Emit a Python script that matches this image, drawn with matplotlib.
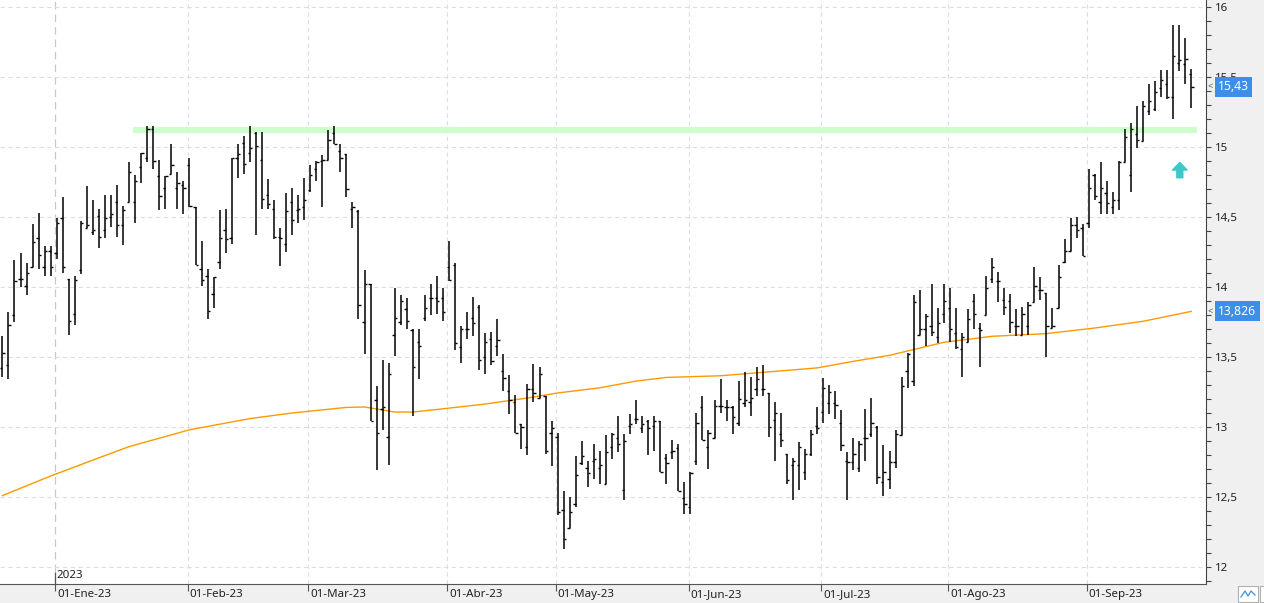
import numpy as np
import pandas as pd
import matplotlib
matplotlib.use("Agg")
import matplotlib.pyplot as plt
from matplotlib.ticker import MultipleLocator, FuncFormatter
from matplotlib.patches import Rectangle

plt.rcParams['font.family'] = ['Noto Sans', 'DejaVu Sans']

# Sesiones (BME) del 19-dic-2022 al 26-sep-2023
holidays = ['2022-12-26', '2023-04-07', '2023-04-10', '2023-05-01']
meses = ['Ene', 'Feb', 'Mar', 'Abr', 'May', 'Jun', 'Jul', 'Ago', 'Sep', 'Oct', 'Nov', 'Dic']

opens = [13.42, 13.44, 13.80, 14.06, 14.01, 14.14, 14.35, 14.14, 14.26, 14.24,
         14.49, 14.06, 13.81, 14.12, 14.42, 14.39, 14.51, 14.41, 14.50, 14.61,
         14.44, 14.61, 14.61, 14.86, 14.92, 15.13, 14.79, 14.71, 14.81, 14.71,
         14.73, 14.87, 14.57, 14.13, 14.08, 13.95, 14.18, 14.41, 14.35, 14.92,
         15.03, 14.96, 15.10, 14.91, 14.66, 14.56, 14.36, 14.31, 14.61, 14.55,
         14.57, 14.69, 14.84, 14.90, 14.91, 15.10, 14.97, 14.95, 14.56, 14.54,
         13.75, 14.02, 13.19, 13.13, 12.93, 13.66, 13.75, 13.84, 13.69, 13.61,
         13.78, 13.92, 13.92, 13.92, 14.14, 14.16, 13.57, 13.70, 13.78, 13.86,
         13.50, 13.63, 13.58, 13.40, 13.26, 13.18, 13.02, 12.86, 13.27, 13.21,
         13.22, 12.96, 12.93, 12.41, 12.28, 12.45, 12.74, 12.71, 12.76, 12.71,
         12.59, 12.86, 12.92, 12.55, 13.01, 13.06, 12.99, 13.04, 13.01, 13.04,
         12.78, 12.82, 12.85, 12.49, 12.43, 12.76, 13.14, 12.86, 12.92, 13.15,
         13.14, 13.14, 13.03, 13.17, 13.18, 13.27, 13.27, 13.24, 13.05, 12.95,
         12.81, 12.73, 12.73, 12.68, 12.81, 13.01, 13.11, 13.17, 13.17, 13.03,
         12.76, 12.75, 12.71, 12.92, 12.95, 13.00, 12.61, 12.63, 12.75, 12.94,
         13.40, 13.33, 13.66, 13.70, 13.72, 13.64, 13.81, 13.85, 13.67, 13.56,
         13.61, 13.90, 13.71, 13.80, 14.06, 14.04, 13.91, 13.90, 13.72, 13.66,
         13.72, 13.89, 13.98, 13.96, 13.71, 13.85, 14.18, 14.26, 14.44, 14.42,
         14.46, 14.80, 14.61, 14.67, 14.57, 14.62, 14.89, 14.80, 15.09, 15.04,
         15.26, 15.27, 15.42, 15.45, 15.36, 15.60, 15.59, 15.52]
highs = [13.65, 13.82, 14.19, 14.24, 14.17, 14.45, 14.53, 14.29, 14.29, 14.49,
         14.64, 14.06, 14.08, 14.47, 14.72, 14.62, 14.56, 14.66, 14.66, 14.73,
         14.58, 14.89, 14.80, 14.96, 15.15, 15.15, 14.91, 14.79, 15.02, 14.82,
         14.76, 14.92, 14.57, 14.33, 14.13, 14.07, 14.55, 14.56, 14.92, 15.02,
         15.08, 15.15, 15.11, 15.11, 14.77, 14.62, 14.42, 14.67, 14.71, 14.66,
         14.78, 14.87, 14.90, 14.94, 15.12, 15.15, 15.02, 14.95, 14.61, 14.55,
         14.12, 14.02, 13.29, 13.48, 13.46, 13.99, 13.94, 13.92, 13.70, 13.70,
         13.94, 14.02, 14.08, 13.99, 14.33, 14.17, 13.72, 13.82, 13.93, 13.87,
         13.67, 13.68, 13.77, 13.52, 13.37, 13.23, 13.02, 13.31, 13.45, 13.43,
         13.22, 13.04, 12.96, 12.54, 12.50, 12.79, 12.90, 12.76, 12.88, 12.83,
         12.94, 12.96, 13.08, 12.95, 13.09, 13.19, 13.08, 13.05, 13.08, 13.04,
         12.81, 12.91, 12.88, 12.61, 12.68, 13.10, 13.22, 12.98, 13.19, 13.34,
         13.19, 13.15, 13.33, 13.39, 13.36, 13.43, 13.44, 13.24, 13.18, 13.10,
         12.81, 12.78, 12.89, 12.84, 12.98, 13.14, 13.35, 13.30, 13.26, 13.12,
         12.82, 12.92, 12.90, 13.13, 13.21, 13.01, 12.87, 12.83, 12.98, 13.36,
         13.53, 13.94, 13.98, 13.81, 14.02, 13.85, 14.02, 13.99, 13.85, 13.67,
         13.84, 13.95, 13.74, 14.08, 14.21, 14.11, 13.99, 13.95, 13.84, 13.86,
         13.89, 14.14, 14.07, 13.96, 13.85, 14.16, 14.34, 14.49, 14.50, 14.45,
         14.84, 14.81, 14.89, 14.76, 14.68, 14.90, 15.13, 15.17, 15.29, 15.33,
         15.45, 15.47, 15.55, 15.55, 15.87, 15.87, 15.78, 15.56]
lows = [13.36, 13.34, 13.75, 14.00, 13.94, 14.14, 14.13, 14.08, 14.08, 14.20,
        14.10, 13.66, 13.73, 14.09, 14.42, 14.37, 14.28, 14.35, 14.43, 14.36,
        14.30, 14.61, 14.46, 14.74, 14.89, 14.84, 14.55, 14.56, 14.81, 14.56,
        14.52, 14.57, 14.16, 14.01, 13.77, 13.85, 14.13, 14.24, 14.31, 14.78,
        14.81, 14.89, 14.37, 14.56, 14.56, 14.34, 14.15, 14.25, 14.37, 14.46,
        14.48, 14.68, 14.76, 14.57, 14.91, 15.02, 14.82, 14.64, 14.42, 13.77,
        13.52, 13.04, 12.69, 12.98, 12.73, 13.51, 13.73, 13.70, 13.08, 13.34,
        13.76, 13.80, 13.81, 13.76, 14.04, 13.55, 13.46, 13.63, 13.65, 13.41,
        13.38, 13.44, 13.51, 13.26, 13.09, 12.96, 12.84, 12.80, 13.18, 13.21,
        12.81, 12.72, 12.37, 12.13, 12.28, 12.43, 12.73, 12.57, 12.63, 12.59,
        12.59, 12.77, 12.82, 12.48, 12.95, 13.02, 12.96, 12.80, 12.83, 12.68,
        12.59, 12.77, 12.54, 12.38, 12.38, 12.73, 12.91, 12.70, 12.92, 13.10,
        13.04, 12.95, 13.01, 13.14, 13.08, 13.22, 13.22, 12.93, 12.76, 12.86,
        12.59, 12.48, 12.55, 12.62, 12.79, 12.95, 13.03, 13.09, 13.06, 12.83,
        12.48, 12.69, 12.68, 12.76, 12.93, 12.59, 12.51, 12.56, 12.71, 12.94,
        13.28, 13.29, 13.66, 13.58, 13.65, 13.60, 13.74, 13.61, 13.56, 13.36,
        13.61, 13.70, 13.43, 13.80, 14.03, 13.89, 13.80, 13.67, 13.65, 13.66,
        13.66, 13.89, 13.91, 13.50, 13.71, 13.85, 14.17, 14.26, 14.35, 14.22,
        14.42, 14.62, 14.52, 14.52, 14.52, 14.55, 14.89, 14.68, 14.99, 15.04,
        15.23, 15.26, 15.36, 15.34, 15.20, 15.54, 15.45, 15.28]
closes = [13.53, 13.73, 14.04, 14.06, 14.10, 14.32, 14.23, 14.26, 14.14, 14.46,
          14.14, 13.76, 14.05, 14.46, 14.44, 14.41, 14.36, 14.49, 14.52, 14.44,
          14.55, 14.82, 14.76, 14.96, 15.13, 14.90, 14.65, 14.79, 14.87, 14.74,
          14.71, 14.58, 14.16, 14.05, 13.83, 14.07, 14.35, 14.34, 14.92, 14.95,
          14.88, 14.99, 15.01, 14.63, 14.59, 14.36, 14.35, 14.54, 14.48, 14.56,
          14.62, 14.80, 14.89, 14.91, 15.05, 15.02, 14.92, 14.70, 14.57, 13.87,
          14.02, 13.04, 12.96, 13.14, 13.38, 13.78, 13.90, 13.76, 13.43, 13.58,
          13.85, 13.92, 13.90, 13.82, 14.05, 13.60, 13.70, 13.70, 13.74, 13.48,
          13.61, 13.47, 13.62, 13.35, 13.19, 12.96, 13.00, 13.27, 13.24, 13.38,
          12.83, 12.99, 12.39, 12.20, 12.39, 12.66, 12.79, 12.67, 12.77, 12.73,
          12.82, 12.95, 12.88, 12.90, 13.02, 13.06, 13.02, 12.99, 13.04, 12.68,
          12.74, 12.83, 12.54, 12.45, 12.67, 13.03, 12.91, 12.96, 13.15, 13.15,
          13.14, 13.07, 13.20, 13.19, 13.21, 13.34, 13.27, 13.00, 13.10, 12.91,
          12.62, 12.76, 12.86, 12.81, 12.95, 12.99, 13.28, 13.25, 13.16, 12.87,
          12.75, 12.81, 12.88, 12.92, 13.03, 12.64, 12.68, 12.75, 12.95, 13.29,
          13.52, 13.89, 13.70, 13.79, 13.68, 13.74, 13.90, 13.70, 13.57, 13.64,
          13.77, 13.81, 13.69, 13.99, 14.14, 14.04, 13.86, 13.75, 13.72, 13.81,
          13.87, 14.01, 13.98, 13.72, 13.72, 14.07, 14.26, 14.44, 14.41, 14.22,
          14.71, 14.65, 14.71, 14.60, 14.62, 14.89, 15.07, 15.13, 15.05, 15.29,
          15.33, 15.39, 15.48, 15.36, 15.65, 15.62, 15.63, 15.43]

ma_idx = [0, 8, 16, 21, 31, 41, 48, 57, 60, 65, 68, 73, 80, 87, 92, 99,
          105, 110, 119, 127, 135, 141, 147, 156, 164, 173, 181, 189, 197]
ma_val = [12.51, 12.65, 12.78, 12.86, 12.98, 13.06, 13.10, 13.14, 13.143, 13.107,
          13.107, 13.13, 13.164, 13.207, 13.243, 13.28, 13.328, 13.354, 13.366, 13.394,
          13.422, 13.469, 13.512, 13.605, 13.648, 13.667, 13.707, 13.755, 13.826]

resistencia = 15.12
last_close = closes[-1]
last_ma = ma_val[-1]

dates = pd.bdate_range('2022-12-19', '2023-09-26')
dates = dates[~dates.isin(pd.to_datetime(holidays))]
n = len(dates)
idx = np.arange(n)

months = dates.to_period('M')
first = np.flatnonzero(np.r_[False, np.asarray(months[1:] != months[:-1])])
month_pos = first - 0.3
month_lbl = [f"01-{meses[dates[i].month - 1]}-{dates[i]:%y}" for i in first]

fig = plt.figure(figsize=(12.64, 6.03), dpi=100)
fig.patch.set_facecolor('#f0f0f0')
ax = fig.add_axes([0, 19 / 603, 1206 / 1264, 584 / 603])
ax.set_facecolor('white')
ax.set_xlim(-0.4, 199.44)
ax.set_ylim(16 - 577 / 140, 16 + 7 / 140)

# rejilla
ax.yaxis.set_major_locator(MultipleLocator(0.5))
ax.yaxis.set_minor_locator(MultipleLocator(0.1))
ax.grid(axis='y', which='major', color='#dedede', linestyle=(0, (4, 3)), lw=0.8)
for k, p in enumerate(month_pos):
    if k == 0:
        ax.axvline(p, color='#c8c8c8', linestyle=(0, (6, 4)), lw=0.9, zorder=0)
    else:
        ax.axvline(p, color='#dedede', linestyle=(0, (4, 3)), lw=0.8, zorder=0)

# resistencia y media
ax.hlines(resistencia, 21.65, 197.9, color='#ccffcc', lw=4.4, zorder=1)
ax.plot(ma_idx, ma_val, color='#ff9900', lw=1.0, zorder=2)

# barras OHLC
ax.vlines(idx, lows, highs, color='black', lw=1.1, zorder=3)
ax.hlines(opens, idx - 0.38, idx, color='black', lw=1.0, zorder=3)
ax.hlines(closes, idx, idx + 0.38, color='black', lw=1.0, zorder=3)

# flecha
ax.annotate('', xy=(195.1, 14.89), xytext=(195.1, 14.78),
            arrowprops=dict(width=4.3, headwidth=10.5, headlength=5.5,
                            color='#3cc8c8', shrink=0))

# ejes
for s in ['left', 'top']:
    ax.spines[s].set_visible(False)
ax.spines['right'].set_color('#444444')
ax.spines['bottom'].set_color('#555555')
ax.yaxis.tick_right()
ax.yaxis.set_major_formatter(FuncFormatter(lambda v, _: f"{v:g}".replace('.', ',')))
ax.tick_params(axis='y', which='both', direction='out', length=3.6, width=0.8,
               color='#444444', pad=3, labelsize=8.3, labelcolor='#222222')
ax.set_xticks(month_pos, labels=[''] * len(month_pos))
ax.tick_params(axis='x', direction='out', length=5, width=0.8, color='#555555')

for p, lbl in zip(month_pos, month_lbl):
    ax.annotate(lbl, xy=(p, 0), xycoords=('data', 'axes fraction'),
                xytext=(2, -5), textcoords='offset pixels', ha='left', va='top',
                fontsize=8.3, color='#222222', annotation_clip=False)

ax.vlines(month_pos[0], 16 - 565 / 140, 16 - 577 / 140, color='#555555', lw=0.9)
ax.annotate('2023', xy=(month_pos[0], 0), xycoords=('data', 'axes fraction'),
            xytext=(2, 3), textcoords='offset pixels', ha='left', va='bottom',
            fontsize=8.3, color='#222222')

# etiquetas de precio
for val, txt in [(last_close, f"{last_close:.2f}".replace('.', ',')),
                 (last_ma, f"{last_ma:.3f}".replace('.', ','))]:
    ax.annotate(txt, xy=(1, val), xycoords=('axes fraction', 'data'),
                xytext=(12, 0), textcoords='offset pixels', ha='left', va='center',
                fontsize=8.8, color='white', annotation_clip=False, zorder=5,
                bbox=dict(boxstyle='square,pad=0.28', fc='#3d8ee6', ec='none'))
    ax.annotate('<', xy=(1, val), xycoords=('axes fraction', 'data'),
                xytext=(1, 0), textcoords='offset pixels', ha='left', va='center',
                fontsize=6.5, color='#555555', annotation_clip=False)

# iconos abajo a la derecha
fig.patches.append(Rectangle((1238 / 1264, 1 / 603), 20 / 1264, 16 / 603,
                             transform=fig.transFigure, fc='white', ec='#b0b0b0', lw=0.8))
fig.lines.append(plt.Line2D(np.array([1241, 1245, 1248, 1251, 1255]) / 1264,
                            np.array([6, 12, 7, 12, 8]) / 603,
                            transform=fig.transFigure, color='#3d8ee6', lw=0.9))
fig.patches.append(Rectangle((1260 / 1264, 1 / 603), 10 / 1264, 16 / 603,
                             transform=fig.transFigure, fc='white', ec='#b0b0b0', lw=0.8))

fig.savefig('out.png', dpi=100, facecolor=fig.get_facecolor())
